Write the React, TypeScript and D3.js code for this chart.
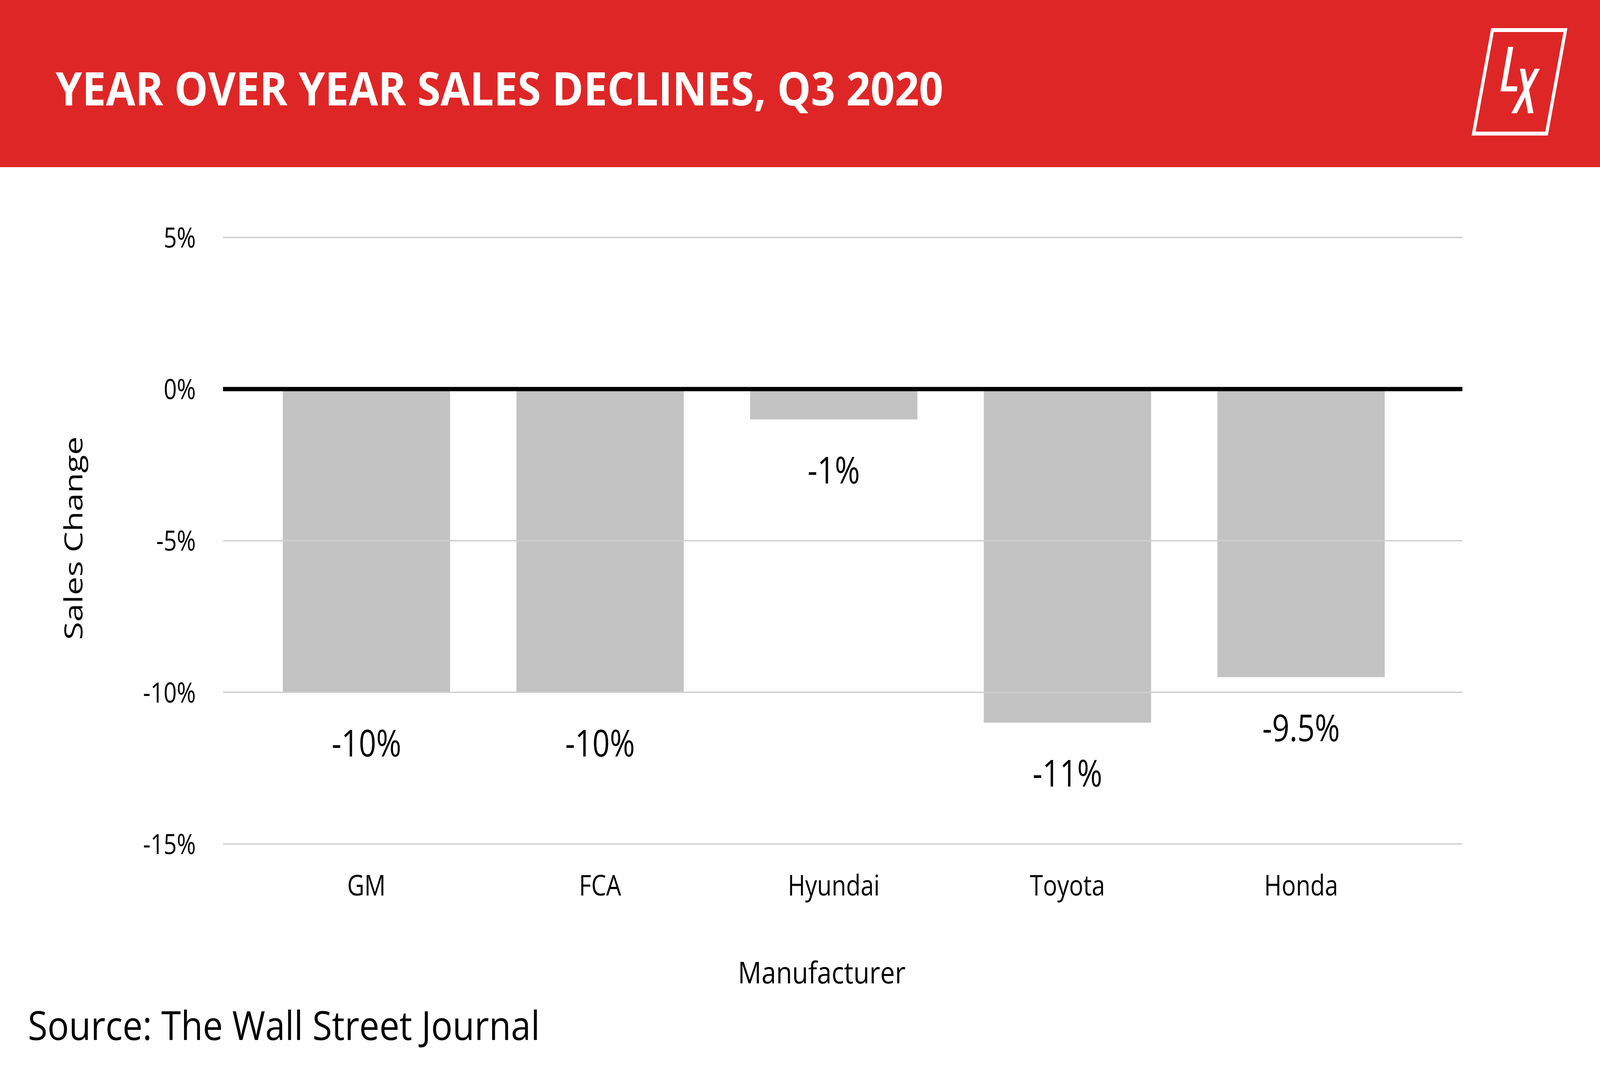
import * as d3 from "d3";

const categories = ["GM", "FCA", "Hyundai", "Toyota", "Honda"];
const salesChange = [-10, -10, -1, -11, -9.5];
const yTicks = [5, 0, -5, -10, -15];

const WIDTH = 5000;
const HEIGHT = 2727;
const RED = "#df2626";
const FONT = "'Open Sans', sans-serif";

const pct = (v: number) => `${v}%`;

const Logo = () => (
    <g fill="#fff">
        <polygon points="4664,77 4892,77 4833,342 4605,342" fill="none" stroke="#fff" strokeWidth={10} />
        <polygon points="4713,120 4729,120 4707,221 4742,221 4740,234 4689,234" />
        <polygon points="4750,176 4766,176 4792,290 4775,290" />
        <polygon points="4796,176 4812,176 4740,290 4723,290" />
    </g>
);

export default function App() {
    const x = d3
        .scaleBand<string>()
        .domain(categories)
        .range([780, 4431])
        .paddingInner(0.284)
        .paddingOuter(0.142);

    const y = d3.scaleLinear().domain([-15, 5]).range([2161, 608]);

    const gridLeft = 697;
    const gridRight = 4570;

    // the page may be narrower than the 5000px design, so stretch the drawing to the window
    const vw = typeof window !== "undefined" ? window.innerWidth : WIDTH;
    const vh = typeof window !== "undefined" ? window.innerHeight : HEIGHT;

    return (
        <div style={{ position: "absolute", left: 0, top: 0 }}>
            <svg
                width={vw}
                height={vh}
                viewBox={`0 0 ${WIDTH} ${HEIGHT}`}
                preserveAspectRatio="none"
                style={{ display: "block" }}
                fontFamily={FONT}
            >
                <rect x={0} y={0} width={WIDTH} height={HEIGHT} fill="#fff" />

                {/* header band */}
                <rect x={0} y={0} width={WIDTH} height={428} fill={RED} />
                <text
                    x={174}
                    y={270}
                    fill="#fff"
                    fontSize={119}
                    fontWeight={700}
                    textLength={2774}
                    lengthAdjust="spacingAndGlyphs"
                >
                    YEAR OVER YEAR SALES DECLINES, Q3 2020
                </text>
                <Logo />

                {/* bars */}
                {categories.map((c, i) => {
                    const v = salesChange[i];
                    return (
                        <rect
                            key={c}
                            x={x(c)}
                            y={y(0)}
                            width={x.bandwidth()}
                            height={y(v) - y(0)}
                            fill="#c3c3c3"
                        />
                    );
                })}

                {/* gridlines + y ticks */}
                {yTicks.map((t) => (
                    <g key={t}>
                        {t !== 0 && (
                            <line
                                x1={gridLeft}
                                x2={gridRight}
                                y1={y(t)}
                                y2={y(t)}
                                stroke="#cfcfcf"
                                strokeWidth={3.5}
                            />
                        )}
                        <text x={612} y={y(t)} dy="0.36em" textAnchor="end" fontSize={72} fill="#000">
                            {pct(t)}
                        </text>
                    </g>
                ))}
                <line x1={gridLeft} x2={gridRight} y1={y(0)} y2={y(0)} stroke="#000" strokeWidth={11} />

                {/* value labels */}
                {categories.map((c, i) => (
                    <text
                        key={c}
                        x={x(c)! + x.bandwidth() / 2}
                        y={y(salesChange[i]) + 164}
                        textAnchor="middle"
                        fontSize={95}
                        fill="#000"
                    >
                        {pct(salesChange[i])}
                    </text>
                ))}

                {/* category labels */}
                {categories.map((c) => (
                    <text
                        key={c}
                        x={x(c)! + x.bandwidth() / 2}
                        y={2293}
                        textAnchor="middle"
                        fontSize={74}
                        fill="#000"
                    >
                        {c}
                    </text>
                ))}

                {/* axis titles */}
                <text
                    x={2568}
                    y={2518}
                    textAnchor="middle"
                    fontSize={77}
                    fill="#000"
                    textLength={524}
                    lengthAdjust="spacingAndGlyphs"
                >
                    Manufacturer
                </text>
                <text
                    transform="translate(257,1378) rotate(-90)"
                    textAnchor="middle"
                    fontSize={78}
                    fill="#000"
                    textLength={521}
                    lengthAdjust="spacingAndGlyphs"
                >
                    Sales Change
                </text>

                {/* source */}
                <text
                    x={87}
                    y={2663}
                    fontSize={102}
                    fill="#000"
                    textLength={1600}
                    lengthAdjust="spacingAndGlyphs"
                >
                    Source: The Wall Street Journal
                </text>
            </svg>
        </div>
    );
}
